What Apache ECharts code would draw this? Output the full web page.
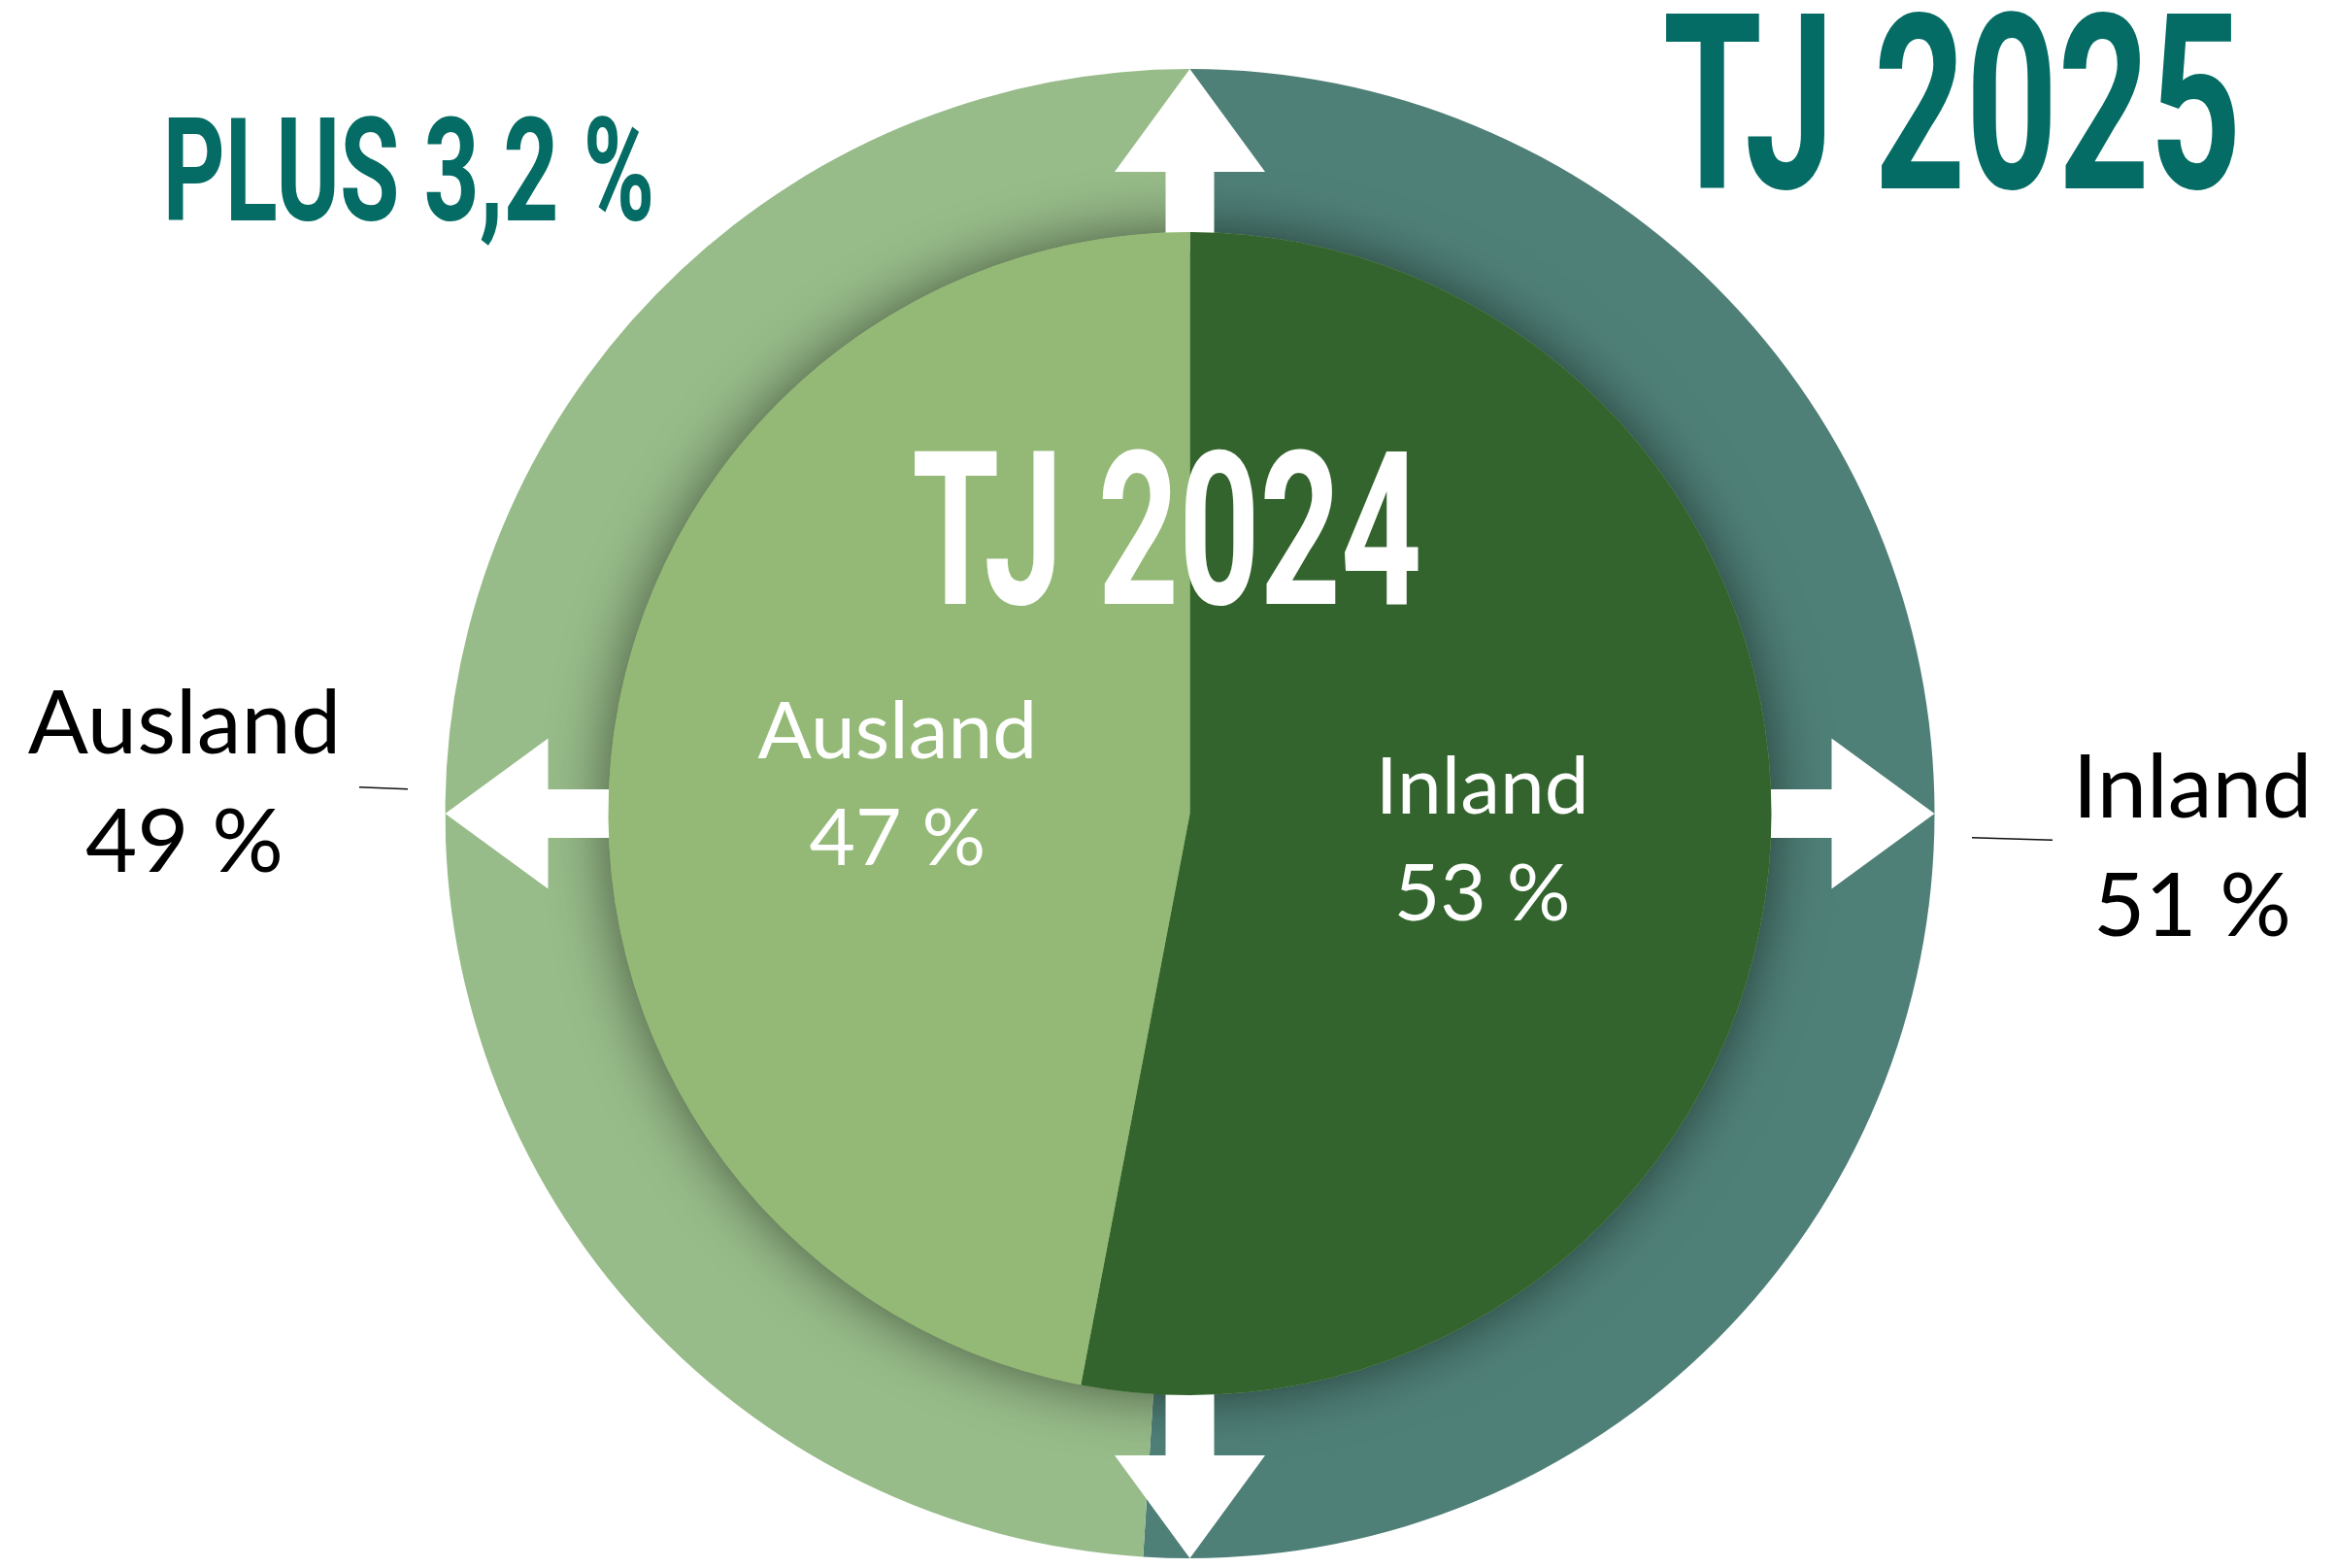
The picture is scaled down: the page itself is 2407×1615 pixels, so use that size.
<!DOCTYPE html>
<html>
<head>
<meta charset="utf-8">
<script src="https://cdn.jsdelivr.net/npm/echarts@6/dist/echarts.min.js"></script>
<style>
  html, body { margin: 0; padding: 0; background: #fff; }
  #chart { width: 2407px; height: 1615px; }
</style>
</head>
<body>
<div id="chart"></div>
<script>
// Daten
const categories = ['Inland', 'Ausland'];
const share2025 = [51, 49];   // äußerer Ring, TJ 2025
const share2024 = [53, 47];   // innere Scheibe, TJ 2024
const titleOuter = 'TJ 2025';
const titleInner = 'TJ 2024';
const growthText = 'PLUS 3,2 %';

const colors2025 = ['#4f8078', '#97bb89'];
const colors2024 = ['#34642d', '#94b976'];

const CENTER = [1225.5, 838];
const R_OUT = 767;
const R_IN = 599;

const toData = (vals, cols) => categories.map((name, i) => ({
  name, value: vals[i], itemStyle: { color: cols[i] }
}));

// Beschriftung außen: Position + kurze Führungslinie
const outerLabelPos = [
  { x: 2258, y: 873, line: [[2114, 865.3], [2072, 864], [2031, 862.7]] },
  { x: 190, y: 807, line: [[420, 812.7], [395, 811.7], [370, 810.7]] }
];

// Pfeile (weiß) auf dem Ring
function arrow(angle) {
  const a = angle * Math.PI / 180;
  const d = [Math.sin(a), -Math.cos(a)], p = [Math.cos(a), Math.sin(a)];
  const head = R_OUT - 106;
  const pts = [[R_OUT, 0], [head, 77.5], [head, 25], [R_IN - 20, 25],
               [R_IN - 20, -25], [head, -25], [head, -77.5]];
  return {
    type: 'polygon', z: 3, silent: true,
    shape: { points: pts.map(([u, v]) => [CENTER[0] + u * d[0] + v * p[0], CENTER[1] + u * d[1] + v * p[1]]) },
    style: { fill: '#fff' }
  };
}

// schmale Titelschrift: Roboto horizontal gestaucht
const ctx = document.createElement('canvas').getContext('2d');
function bigText(text, size, left, capMid, width, fill) {
  const font = 'bold ' + size + 'px Roboto';
  ctx.font = font;
  ctx.textBaseline = 'middle';
  const m = ctx.measureText(text);
  const sx = width / (m.actualBoundingBoxLeft + m.actualBoundingBoxRight);
  const ref = ctx.measureText('TJ');
  const off = (ref.actualBoundingBoxDescent - ref.actualBoundingBoxAscent) / 2;
  return {
    type: 'text', z: 10, silent: true,
    x: left + m.actualBoundingBoxLeft * sx,
    y: capMid - off,
    scaleX: sx,
    style: { text, font, fill, textAlign: 'left', textVerticalAlign: 'middle', align: 'left', verticalAlign: 'middle' }
  };
}

const chart = echarts.init(document.getElementById('chart'));
chart.setOption({
  animation: false,
  backgroundColor: '#fff',
  graphic: [
    arrow(0), arrow(90), arrow(180), arrow(270),
    bigText(titleOuter, 252, 1716, 104.5, 586.5, '#046c64'),
    bigText(growthText, 148, 173.5, 174.2, 496.5, '#046c64'),
    bigText(titleInner, 221, 942, 544.2, 518.5, '#ffffff')
  ],
  series: [
    {
      type: 'pie', name: titleOuter, z: 1, silent: true,
      center: CENTER, radius: [0, R_OUT],
      startAngle: 90, clockwise: true, avoidLabelOverlap: false,
      data: toData(share2025, colors2025),
      label: {
        show: true, position: 'outside', formatter: '{b}\n{c} %',
        fontFamily: 'Lato', fontSize: 92, lineHeight: 122, color: '#000'
      },
      labelLine: { show: true, lineStyle: { color: '#111', width: 1.5 } },
      labelLayout: (params) => {
        const pos = outerLabelPos[params.dataIndex];
        return { x: pos.x, y: pos.y, align: 'center', verticalAlign: 'middle', labelLinePoints: pos.line };
      },
      emphasis: { disabled: true }
    },
    {
      // Schatten unter der inneren Scheibe
      type: 'pie', z: 2, silent: true,
      center: CENTER, radius: [0, R_IN],
      data: [{ value: 1, name: '' }],
      itemStyle: { color: '#94b976', shadowBlur: 60, shadowColor: 'rgba(0,0,0,0.55)' },
      label: { show: false }, labelLine: { show: false },
      emphasis: { disabled: true }
    },
    {
      type: 'pie', name: titleInner, z: 4, silent: true,
      center: CENTER, radius: [0, R_IN],
      startAngle: 90, clockwise: true,
      data: toData(share2024, colors2024),
      label: {
        show: true, position: 'inside', formatter: '{b}\n{c} %',
        fontFamily: 'Lato', fontSize: 82, lineHeight: 110, color: '#fff'
      },
      labelLine: { show: false },
      emphasis: { disabled: true }
    }
  ]
});
</script>
</body>
</html>
